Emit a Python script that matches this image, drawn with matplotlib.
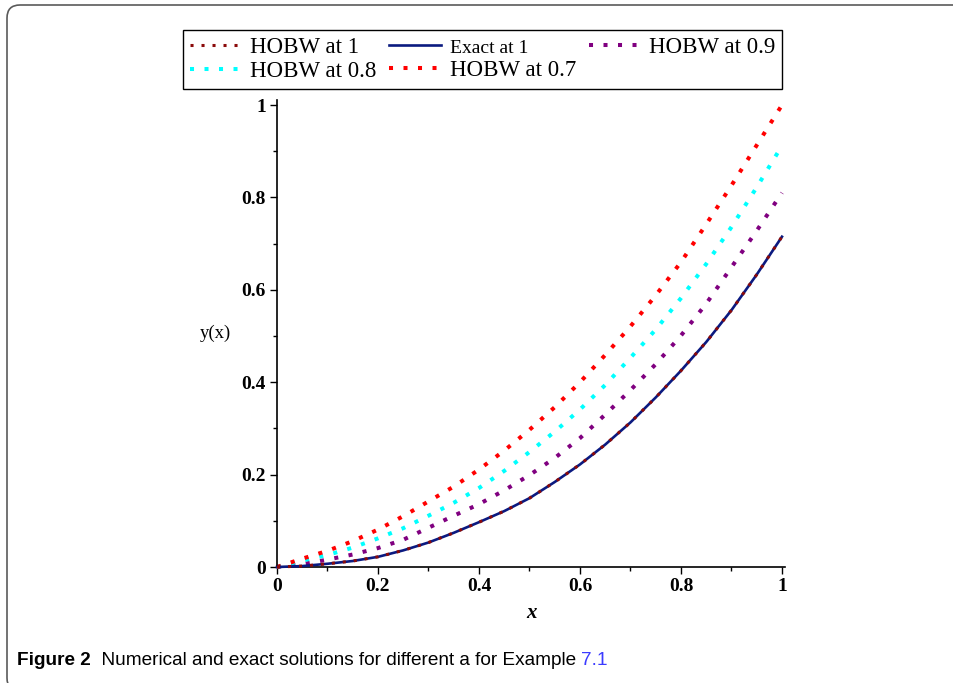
import matplotlib
matplotlib.use("Agg")
import matplotlib.pyplot as plt
from matplotlib.patches import FancyBboxPatch
from matplotlib.transforms import IdentityTransform
from matplotlib.ticker import FixedLocator

# ---------------- data ----------------
x = [0.0, 0.05, 0.1, 0.15, 0.2, 0.25, 0.3, 0.35, 0.4, 0.45, 0.5,
     0.55, 0.6, 0.65, 0.7, 0.75, 0.8, 0.85, 0.9, 0.95, 1.0]
exact_1 = [0.0, 0.002, 0.007, 0.013, 0.022, 0.036, 0.053, 0.074, 0.097, 0.121, 0.149,
           0.184, 0.222, 0.265, 0.313, 0.367, 0.425, 0.487, 0.556, 0.633, 0.715]
hobw_1 = [0.0, 0.002, 0.007, 0.013, 0.022, 0.036, 0.053, 0.074, 0.097, 0.121, 0.149,
          0.184, 0.222, 0.265, 0.313, 0.367, 0.425, 0.487, 0.556, 0.633, 0.715]
hobw_09 = [0.0, 0.006, 0.016, 0.027, 0.041, 0.059, 0.085, 0.111, 0.136, 0.166, 0.199,
           0.236, 0.279, 0.330, 0.383, 0.439, 0.501, 0.570, 0.649, 0.728, 0.810]
hobw_08 = [0.0, 0.014, 0.026, 0.042, 0.062, 0.084, 0.111, 0.139, 0.171, 0.208, 0.249,
           0.293, 0.341, 0.394, 0.453, 0.514, 0.582, 0.656, 0.736, 0.822, 0.912]
hobw_07 = [0.0, 0.018, 0.035, 0.056, 0.081, 0.110, 0.142, 0.174, 0.211, 0.252, 0.297,
           0.346, 0.400, 0.459, 0.521, 0.588, 0.660, 0.742, 0.826, 0.913, 1.000]

tick_vals = [0, 0.2, 0.4, 0.6, 0.8, 1.0]
tick_labels = ["0", "0.2", "0.4", "0.6", "0.8", "1"]

serif = "Liberation Serif"

fig = plt.figure(figsize=(9.54, 6.83), dpi=100)
fig.patch.set_facecolor("white")

# frame around the figure (top + left, rounded corner)
frame = FancyBboxPatch((7, -8), 990, 686, boxstyle="round,pad=0,rounding_size=13",
                       transform=IdentityTransform(), fill=False,
                       edgecolor="#5a5a5a", linewidth=1.2)
fig.add_artist(frame)

ax = fig.add_axes([277/954, 116/683, 508/954, 467.5/683])
ax.set_xlim(0, 1.006)
ax.set_ylim(0, 1.012)

dot = (0, (1.0, 2.6))
ax.plot(x, exact_1, color="#0b1a80", lw=1.9, label="Exact at 1", zorder=3, clip_on=False)
ax.plot(x, hobw_1, color="#8b0a0a", lw=2.2, ls=dot, label="HOBW at 1", zorder=4, clip_on=False)
ax.plot(x, hobw_09, color="#800080", lw=2.9, ls=dot, label="HOBW at 0.9", zorder=2, clip_on=False)
ax.plot(x, hobw_08, color="#00ffff", lw=2.9, ls=dot, label="HOBW at 0.8", zorder=2, clip_on=False)
ax.plot(x, hobw_07, color="#ff0000", lw=2.9, ls=dot, label="HOBW at 0.7", zorder=2, clip_on=False)

for s in ["top", "right"]:
    ax.spines[s].set_visible(False)
for s in ["left", "bottom"]:
    ax.spines[s].set_linewidth(1.2)

ax.xaxis.set_major_locator(FixedLocator(tick_vals))
ax.yaxis.set_major_locator(FixedLocator(tick_vals))
ax.set_xticklabels(tick_labels)
ax.set_yticklabels(tick_labels)
ax.xaxis.set_minor_locator(FixedLocator([0.1, 0.3, 0.5, 0.7, 0.9]))
ax.yaxis.set_minor_locator(FixedLocator([0.1, 0.3, 0.5, 0.7, 0.9]))
ax.tick_params(which="major", direction="out", length=5, width=1.0, pad=3,
               labelsize=14)
ax.tick_params(which="minor", direction="out", length=2.8, width=1.0)
for lab in ax.get_xticklabels() + ax.get_yticklabels():
    lab.set_fontfamily(serif)
    lab.set_fontweight("bold")

ax.text(-0.122, 0.5, "y(x)", transform=ax.transAxes, ha="center", va="center",
        fontsize=13.5, fontfamily=serif)
ax.text(0.5, -0.098, "x", transform=ax.transAxes, ha="center", va="center",
        fontsize=15, fontfamily=serif, fontweight="bold", fontstyle="italic")

# legend: order chosen so that rows read HOBW1, Exact, HOBW0.9 / HOBW0.8, HOBW0.7
h, l = ax.get_legend_handles_labels()
hd = dict(zip(l, h))
order = ["HOBW at 1", "HOBW at 0.8", "Exact at 1", "HOBW at 0.7", "HOBW at 0.9"]
leg = fig.legend([hd[k] for k in order], order, loc="upper left",
                 bbox_to_anchor=(183/954, 1 - 30/683), borderaxespad=0,
                 ncol=3, frameon=True, fancybox=False, framealpha=1,
                 edgecolor="black", prop={"family": serif, "size": 16.5},
                 handlelength=2.26, handletextpad=0.38, columnspacing=0.55,
                 labelspacing=0.12, borderpad=0.3)
leg.get_frame().set_linewidth(1.0)
for t in leg.get_texts():
    if t.get_text() == "Exact at 1":
        t.set_fontsize(14)

# caption with a blue reference number
cap_y = 1 - 665/683
cap_font = ["Liberation Sans Narrow", "Liberation Sans"]
t1 = fig.text(17/954, cap_y, "Figure 2", fontsize=13.7, fontweight="bold",
              family=cap_font, va="baseline", ha="left")
t2 = fig.text(0, cap_y, "  Numerical and exact solutions for different a for Example ",
              fontsize=13.7, family=cap_font, va="baseline", ha="left")
t3 = fig.text(0, cap_y, "7.1", fontsize=13.7, family=cap_font, va="baseline", ha="left",
              color="#3b3bff")
r = fig.canvas.get_renderer()
x1 = t1.get_window_extent(r).x1
t2.set_x(x1 / fig.bbox.width)
x2 = t2.get_window_extent(r).x1
t3.set_x(x2 / fig.bbox.width)

fig.savefig("out.png", dpi=100)
